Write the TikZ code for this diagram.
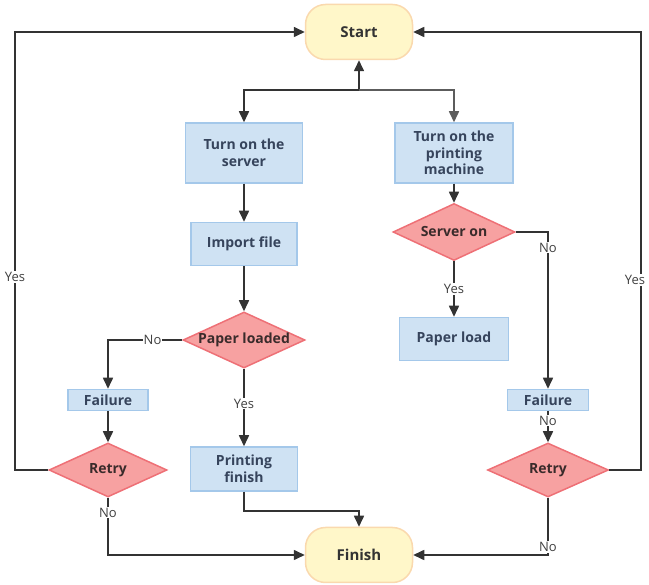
\documentclass[tikz,border=0pt]{standalone}
\usepackage{fontspec}
\setmainfont{Open Sans}
\usetikzlibrary{arrows.meta,shapes.geometric}

\definecolor{yellowfill}{HTML}{FFF7C9}
\definecolor{yellowline}{HTML}{FAD9AE}
\definecolor{bluefill}{HTML}{CFE2F3}
\definecolor{blueline}{HTML}{A4C8EA}
\definecolor{bluetext}{HTML}{36445C}
\definecolor{redfill}{HTML}{F7A1A1}
\definecolor{redline}{HTML}{EE7076}
\definecolor{redtext}{HTML}{3A2B2B}
\definecolor{linegray}{HTML}{333333}
\definecolor{labelgray}{HTML}{404040}

\tikzset{
	startstop/.style={draw=yellowline, fill=yellowfill, line width=1.5pt, rounded corners=20pt,
		minimum width=107pt, minimum height=55pt, text=linegray,
		font=\fontsize{15}{18}\selectfont\bfseries},
	process/.style={draw=blueline, fill=bluefill, line width=1.5pt, align=center, text=bluetext,
		inner sep=1pt, font=\fontsize{14}{16.5}\selectfont\bfseries},
	decision/.style={diamond, aspect=2.2, draw=redline, fill=redfill, line width=1.5pt, inner sep=-4pt,
		text=redtext, font=\fontsize{14}{16}\selectfont\bfseries},
	flow/.style={draw=linegray, line width=1.6pt, -{Triangle[length=11pt,width=10pt]}},
	lbl/.style={fill=white, inner sep=1pt, text=labelgray, font=\fontsize{13}{15}\selectfont}
}

\begin{document}
\begin{tikzpicture}[x=1pt, y=-1pt]
	\useasboundingbox (0,0) rectangle (649,585);
	
	% terminals
	\node[startstop] (start) at (359,32) {Start};
	\node[startstop] (finish) at (359,555) {Finish};
	
	% left branch
	\node[process, minimum width=117pt, minimum height=60pt] (server) at (244,153) {Turn on the\\server};
	\node[process, minimum width=106pt, minimum height=43pt] (import) at (244,244) {Import file};
	\node[decision, minimum width=122pt, minimum height=56pt] (paperd) at (244,340) {Paper loaded};
	\node[process, minimum width=80pt, minimum height=21pt] (failL) at (108,400) {Failure};
	\node[decision, minimum width=118pt, minimum height=54pt] (retryL) at (108,470) {Retry};
	\node[process, minimum width=107pt, minimum height=44pt] (printf) at (244,469) {Printing\\finish};
	
	% right branch
	\node[process, minimum width=118pt, minimum height=60pt] (printer) at (454,153) {Turn on the\\printing\\machine};
	\node[decision, minimum width=122pt, minimum height=57pt] (serverd) at (454,232) {Server on};
	\node[process, minimum width=109pt, minimum height=43pt] (paperl) at (454,339) {Paper load};
	\node[process, minimum width=81pt, minimum height=21pt] (failR) at (548,400) {Failure};
	\node[decision, minimum width=121pt, minimum height=54pt] (retryR) at (548,470) {Retry};
	
	\coordinate (split) at (359,90);
	
	% connectors
	\draw[flow] (split) -- (start.south);
	\draw[flow] (split) -| (server.north);
	\draw[flow, draw=linegray!80] (split) -| (printer.north);
	
	\draw[flow] (server) -- (import);
	\draw[flow] (import) -- (paperd);
	\draw[flow] (paperd.west) -| node[lbl, pos=0.2]{No} (failL.north);
	\draw[flow] (failL) -- (retryL);
	\draw[flow] (retryL.west) -| (15,277) node[lbl]{Yes} |- (start.west);
	\draw[flow] (retryL.south) |- node[lbl, pos=0.13]{No} (finish.west);
	\draw[flow] (paperd) -- node[lbl, pos=0.45]{Yes} (printf);
	\draw[flow] (printf.south) -- ++(0,19) -| (finish.north);
	
	\draw[flow] (printer) -- (serverd);
	\draw[flow] (serverd) -- node[lbl]{Yes} (paperl);
	\draw[flow] (serverd.east) -| node[lbl, pos=0.55]{No} (failR.north);
	\draw[flow] (failR) -- node[lbl, pos=0.3]{No} (retryR);
	\draw[flow] (retryR.east) -| (641,280) node[lbl, xshift=-6pt]{Yes} |- (start.east);
	\draw[flow] (retryR.south) |- node[lbl, pos=0.43]{No} (finish.east);
	
\end{tikzpicture}
\end{document}
